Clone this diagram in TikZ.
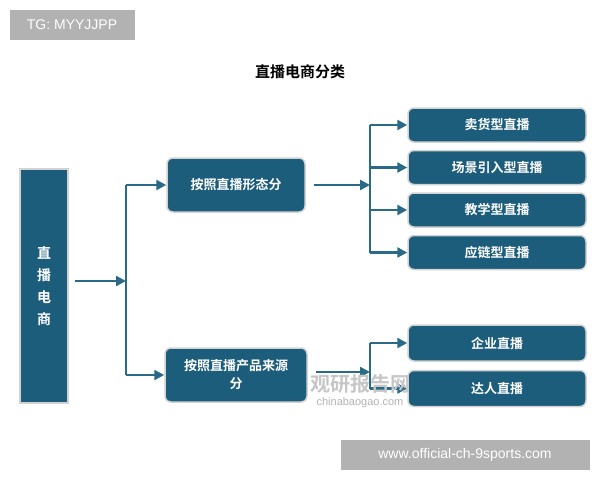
\documentclass[tikz,border=0pt]{standalone}
\usepackage{fontspec}
\setmainfont{Liberation Sans}
\newfontfamily\cjk{Noto Sans CJK SC}[BoldFont={Noto Sans CJK SC Bold}]
\usetikzlibrary{positioning, arrows.meta}
\definecolor{boxblue}{HTML}{1D5D7C}
\definecolor{linkblue}{HTML}{2A6A89}
\tikzstyle{catbox} = [rectangle, rounded corners=6pt, draw=gray!35, line width=1.5pt, fill=boxblue, text=white, font=\cjk\bfseries\fontsize{13}{18}\selectfont, align=center, inner sep=0pt]
\tikzstyle{leafbox} = [catbox, minimum width=178pt, minimum height=34pt]
\tikzstyle{arrow} = [draw=linkblue, line width=2.4pt, -{Triangle[length=10pt,width=10pt]}]
\tikzstyle{link} = [draw=linkblue, line width=1.8pt, rounded corners=4pt]
\tikzstyle{tag} = [fill=gray!60, text=white, font=\fontsize{14}{16}\selectfont, inner sep=0pt]

\begin{document}
\begin{tikzpicture}[x=1pt, y=-1pt]
  \useasboundingbox (0,0) rectangle (600,480);
  \node (title) [font=\cjk\bfseries\fontsize{15}{18}\selectfont] at (300,72) {直播电商分类};

  \node (root) [catbox, rounded corners=0pt, minimum width=48pt, minimum height=234pt, font=\cjk\bfseries\fontsize{14}{22}\selectfont] at (44,286) {直\\播\\电\\商};
  \node (form) [catbox, minimum width=138pt, minimum height=54pt] at (236,185) {按照直播形态分};
  \node (source) [catbox, minimum width=142pt, minimum height=54pt] at (236,375) {按照直播产品来源\\分};

  \node (sell) [leafbox] at (497,125) {卖货型直播};
  \node (scene) [leafbox, below = 7pt of sell] {场景引入型直播};
  \node (teach) [leafbox, below = 7pt of scene] {教学型直播};
  \node (chain) [leafbox, below = 7pt of teach] {应链型直播};
  \node (firm) [leafbox, minimum height=36pt] at (497,343) {企业直播};
  \node (talent) [leafbox, minimum height=36pt, below = 8pt of firm] {达人直播};

  % root bracket
  \coordinate (rootfork) at (126,281);
  \draw [arrow] (root.east |- rootfork) ++(6,0) -- (rootfork);
  \draw [link] (rootfork |- form.west) -- (rootfork |- source.west);
  \draw [arrow] (rootfork |- form.west) -- (form.west);
  \draw [arrow] (rootfork |- source.west) -- (source.west);

  % form bracket
  \coordinate (formfork) at (370,185);
  \draw [arrow] (form.east) ++(8,0) -- (formfork);
  \draw [link] (formfork |- sell.west) -- (formfork |- chain.west);
  \foreach \leaf in {sell, scene, teach, chain}
    \draw [arrow] (formfork |- \leaf.west) -- (\leaf.west);

  % source bracket
  \coordinate (sourcefork) at (370,372);
  \draw [arrow] (source.east |- sourcefork) ++(8,0) -- (sourcefork);
  \draw [link] (sourcefork |- firm.west) -- (sourcefork |- talent.west);
  \foreach \leaf in {firm, talent}
    \draw [arrow] (sourcefork |- \leaf.west) -- (\leaf.west);

  % watermarks
  \node (mark) [text=gray!45, font=\cjk\bfseries\fontsize{20}{22}\selectfont] at (360,384) {观研报告网};
  \node (markurl) [text=gray!60, font=\fontsize{11}{12}\selectfont, below = -3pt of mark] {chinabaogao.com};
  \node (tg) [tag, minimum width=125pt, minimum height=30pt] at (72,25) {TG: MYYJJPP};
  \node (site) [tag, minimum width=249pt, minimum height=30pt] at (465,455) {www.official-ch-9sports.com};
\end{tikzpicture}
\end{document}
